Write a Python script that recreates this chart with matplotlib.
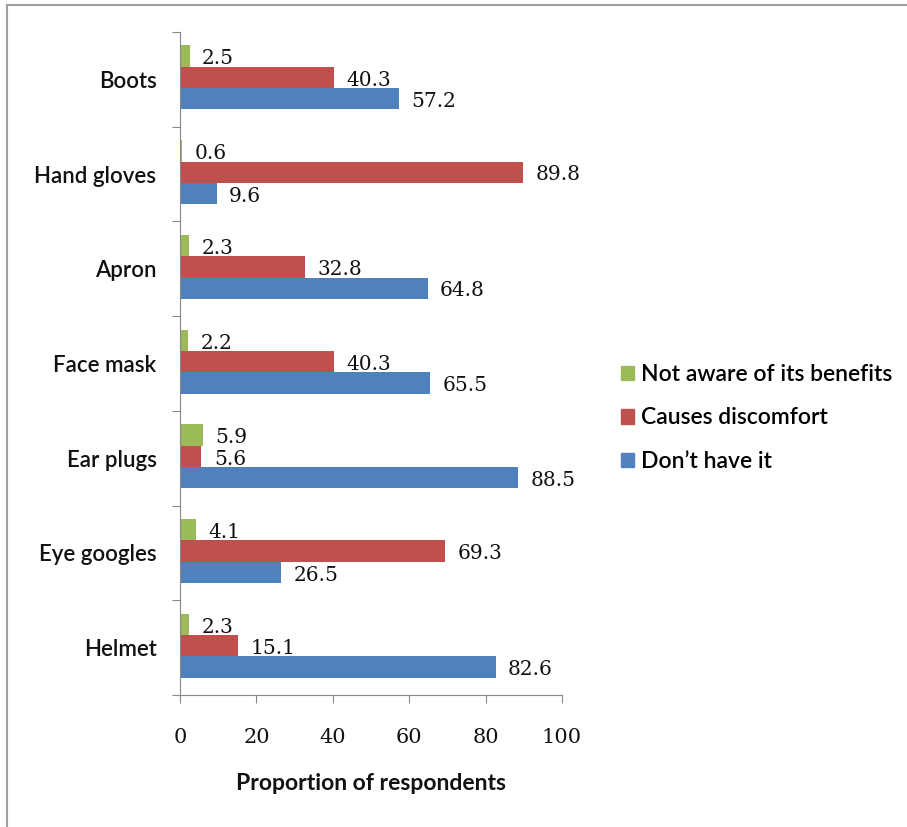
import numpy as np
import matplotlib
matplotlib.use('Agg')
import matplotlib.pyplot as plt
from matplotlib.patches import Patch
from matplotlib.lines import Line2D

# data (bottom to top as drawn)
items = ['Helmet', 'Eye googles', 'Ear plugs', 'Face mask', 'Apron', 'Hand gloves', 'Boots']
not_aware = [2.3, 4.1, 5.9, 2.2, 2.3, 0.6, 2.5]
discomfort = [15.1, 69.3, 5.6, 40.3, 32.8, 89.8, 40.3]
dont_have = [82.6, 26.5, 88.5, 65.5, 64.8, 9.6, 57.2]
series_names = ['Not aware of its benefits', 'Causes discomfort', 'Don\u2019t have it']
x_ticks = [0, 20, 40, 60, 80, 100]

green = '#9BBB59'
red = '#C0504D'
blue = '#4F81BD'
sans = 'Lato'
serif = 'DejaVu Serif'

W, H = 907, 827
fig = plt.figure(figsize=(W / 100, H / 100), dpi=100)
ax = fig.add_axes([180 / W, 1 - 695 / H, (562 - 180) / W, (695 - 32) / H])

y = np.arange(len(items))
h = 0.225
ax.barh(y + h + 0.02, not_aware, height=h, color=green, label=series_names[0])
ax.barh(y + 0.02, discomfort, height=h, color=red, label=series_names[1])
ax.barh(y - h + 0.02, dont_have, height=h, color=blue, label=series_names[2])

for vals, off in [(not_aware, h), (discomfort, 0), (dont_have, -h)]:
    for yi, v in zip(y, vals):
        ax.annotate(f'{v:.1f}', (v, yi + off + 0.02), xytext=(9, -2),
                    textcoords='offset points', va='center', ha='left',
                    fontsize=14.5, family=serif, color='#111111')

ax.set_xlim(0, 100)
ax.set_ylim(-0.5, len(items) - 0.5)
ax.set_xticks(x_ticks)
ax.set_xticklabels([str(t) for t in x_ticks], family=serif, fontsize=15, color='#111111')
ax.tick_params(axis='x', direction='out', length=6, color='#888888', pad=18)

# category separators as major ticks, names as minor labels
ax.set_yticks(np.arange(-0.5, len(items), 1))
ax.set_yticklabels([])
ax.tick_params(axis='y', which='major', direction='out', length=6, color='#888888')
ax.set_yticks(y, minor=True)
ax.set_yticklabels(items, minor=True, family=sans, fontsize=16, fontweight='semibold',
                   color='#111111')
ax.tick_params(axis='y', which='minor', length=0, pad=17)

for s in ['top', 'right']:
    ax.spines[s].set_visible(False)
for s in ['left', 'bottom']:
    ax.spines[s].set_color('#888888')

handles = [Patch(color=green), Patch(color=red), Patch(color=blue)]
ax.legend(handles, series_names, loc='center left', bbox_to_anchor=(600 / W, 1 - 418 / H),
          bbox_transform=fig.transFigure, frameon=False, handlelength=0.6, handleheight=0.6,
          handletextpad=0.3, labelspacing=0.98,
          prop={'family': sans, 'size': 16.5, 'weight': 'semibold'})

fig.text(371 / W, 1 - 783 / H, 'Proportion of respondents', ha='center', va='center',
         family=sans, fontsize=16.5, fontweight='bold', color='#111111')

# chart frame
fig.add_artist(Line2D([7 / W, 1], [1 - 5 / H, 1 - 5 / H], color='#a0a0a0', lw=1.5))
fig.add_artist(Line2D([7 / W, 7 / W], [0, 1 - 5 / H], color='#a0a0a0', lw=1.5))

fig.savefig('out.png', dpi=100)
